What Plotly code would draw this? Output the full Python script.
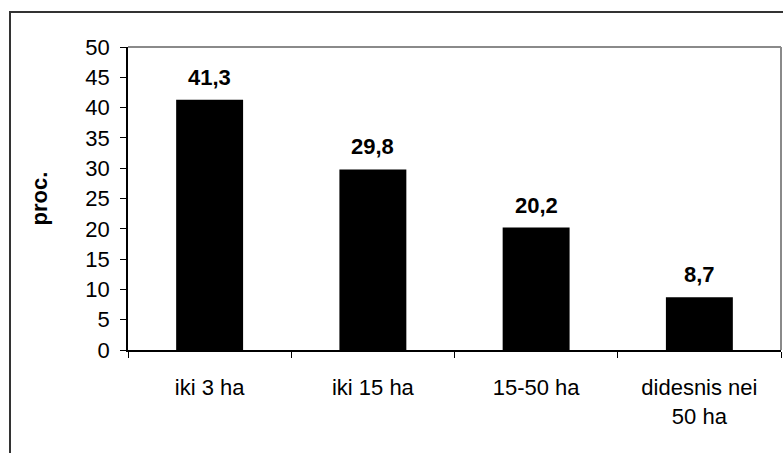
import plotly.graph_objects as go

categories = ["iki 3 ha", "iki 15 ha", "15-50 ha", "didesnis nei<br>50 ha"]
values = [41.3, 29.8, 20.2, 8.7]
labels = ["41,3", "29,8", "20,2", "8,7"]
y_ticks = [0, 5, 10, 15, 20, 25, 30, 35, 40, 45, 50]

FONT = "Arial, Liberation Sans, sans-serif"
FS = 22

fig = go.Figure()
fig.add_trace(go.Bar(x=categories, y=values, marker=dict(color="black", line=dict(width=0)),
                     width=0.41, hoverinfo="skip"))

for c, v, t in zip(categories, values, labels):
    fig.add_annotation(x=c, y=v, text="<b>%s</b>" % t, showarrow=False,
                       yanchor="bottom", yshift=8, font=dict(size=FS, color="black", family=FONT))

W, H = 783, 453
L, T = 128, 47
pw = 781 - 128
ph = 350 - 47
R = W - L - pw
B = H - T - ph

fig.update_layout(
    width=W, height=H,
    margin=dict(l=L, r=R, t=T, b=B),
    paper_bgcolor="white", plot_bgcolor="white",
    showlegend=False,
    font=dict(family=FONT, size=FS, color="black"),
    xaxis=dict(type="category", showgrid=False, showline=True, linecolor="black", linewidth=1.5,
               ticks="outside", tickson="boundaries", ticklen=6, tickcolor="black",
               tickfont=dict(size=FS), ticklabelstandoff=17, range=[-0.5, 3.5]),
    yaxis=dict(range=[0, 50], tickvals=y_ticks, showgrid=False, showline=True, linecolor="black",
               linewidth=1.5, ticks="outside", ticklen=6, tickcolor="black", tickfont=dict(size=FS),
               ticklabelstandoff=6,
               title=dict(text="<b>proc.</b>", font=dict(size=FS), standoff=32)),
    shapes=[
        dict(type="line", xref="paper", yref="paper", x0=0, x1=1, y0=1, y1=1,
             line=dict(color="#8a8a8a", width=2)),
        dict(type="line", xref="paper", yref="paper", x0=1, x1=1, y0=0, y1=1,
             line=dict(color="#8a8a8a", width=2)),
        dict(type="rect", xref="paper", yref="paper",
             x0=(10 - L) / pw, x1=(800 - L) / pw,
             y0=-(470 - 350) / ph, y1=(350 - 12) / ph,
             line=dict(color="#333333", width=2), fillcolor="rgba(0,0,0,0)", layer="below"),
    ],
)

fig.write_html("out.html", config={"displayModeBar": False},
               post_script="document.body.style.margin='0';document.body.style.overflow='hidden';")
